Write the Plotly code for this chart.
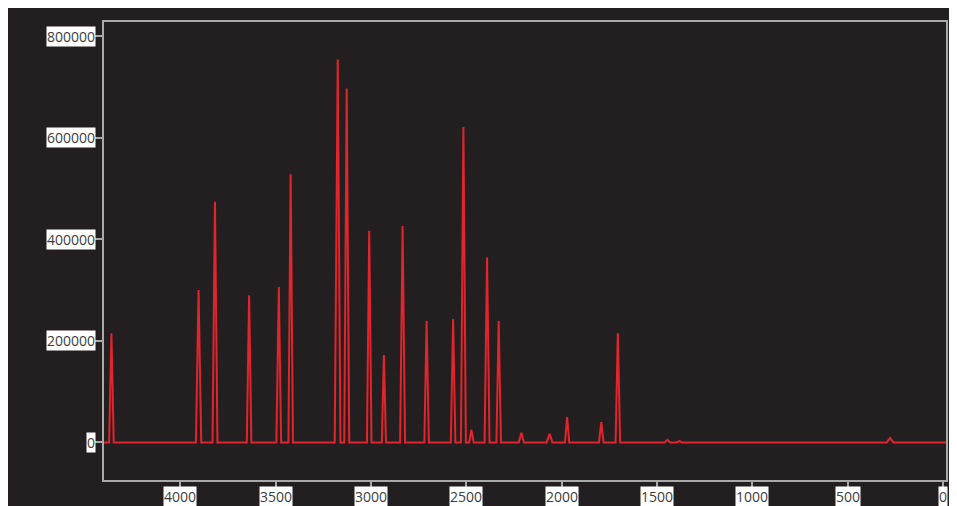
import plotly.graph_objects as go

# Spectrum vertices (wavenumber, intensity)
wavenumber = [4400,
              4373, 4361, 4349,
              3918, 3904, 3890,
              3831, 3818, 3805,
              3651, 3639, 3627,
              3496, 3483, 3471,
              3433, 3421, 3409,
              3190, 3174, 3160,
              3140, 3127, 3114,
              3021, 3009, 2997,
              2943, 2932, 2921,
              2847, 2834, 2821,
              2720, 2708, 2696,
              2581, 2569, 2557,
              2528, 2515, 2502,
              2485, 2473, 2461,
              2404, 2391, 2378,
              2342, 2330, 2318,
              2225, 2211, 2197,
              2078, 2063, 2048,
              1982, 1971, 1960,
              1804, 1792, 1780,
              1717, 1705, 1693,
              1460, 1445, 1430,
              1395, 1382, 1370,
              295, 277, 260,
              -16]
intensity = [0,
             0, 215000, 0,
             0, 300000, 0,
             0, 474000, 0,
             0, 290000, 0,
             0, 306000, 0,
             0, 528000, 0,
             0, 754000, 0,
             0, 697000, 0,
             0, 417000, 0,
             0, 172000, 0,
             0, 426000, 0,
             0, 239000, 0,
             0, 243000, 0,
             0, 621000, 0,
             0, 25000, 0,
             0, 364000, 0,
             0, 239000, 0,
             0, 19000, 0,
             0, 17000, 0,
             0, 50000, 0,
             0, 40000, 0,
             0, 215000, 0,
             0, 5000, 0,
             0, 3000, 0,
             0, 9000, 0,
             0]

x_ticks = [4000, 3500, 3000, 2500, 2000, 1500, 1000, 500, 0]
y_ticks = [0, 200000, 400000, 600000, 800000]

BG = "#231f20"
FRAME = "#a9a9a9"
LABEL_FONT = dict(family="Open Sans, Noto Sans, sans-serif", size=14, color="#3c3c3c")

fig = go.Figure()
fig.add_trace(go.Scatter(x=wavenumber, y=intensity, mode="lines",
                         line=dict(color="#e0252c", width=2), hoverinfo="x+y"))

annotations = []
for v in x_ticks:
    annotations.append(dict(x=v, xref="x", y=0, yref="paper", text=str(v),
                            showarrow=False, xanchor="center", yanchor="top",
                            yshift=-6, bgcolor="white", borderpad=0, font=LABEL_FONT))
for v in y_ticks:
    annotations.append(dict(x=0, xref="paper", y=v, yref="y", text=str(v),
                            showarrow=False, xanchor="right", yanchor="middle",
                            xshift=-8, bgcolor="white", borderpad=0, font=LABEL_FONT))

fig.update_layout(
    width=949, height=498,
    margin=dict(l=96, r=9, t=14, b=26, pad=0),
    paper_bgcolor=BG, plot_bgcolor=BG,
    showlegend=False,
    annotations=annotations,
    xaxis=dict(range=[4400, -16], tickvals=x_ticks, showticklabels=False,
               ticks="outside", ticklen=7, tickcolor=FRAME, tickwidth=2,
               showgrid=False, zeroline=False, showline=True, linecolor=FRAME,
               linewidth=2, mirror=True),
    yaxis=dict(range=[-74000, 828000], tickvals=y_ticks, showticklabels=False,
               ticks="outside", ticklen=8, tickcolor=FRAME, tickwidth=2,
               showgrid=False, zeroline=False, showline=True, linecolor=FRAME,
               linewidth=2, mirror=True),
)

fig.write_html("out.html")
